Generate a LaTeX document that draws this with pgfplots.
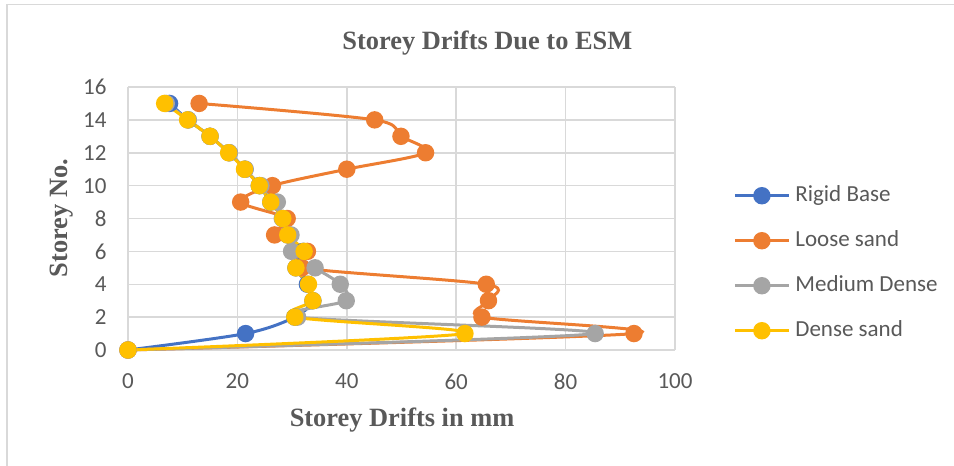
\documentclass[border=0pt]{standalone}
\usepackage{fontspec}
\setmainfont{Carlito}
\newfontfamily\tnr{Liberation Serif}
\usepackage{pgfplots}
\pgfplotsset{compat=1.18}
\definecolor{cblue}{HTML}{4472C4}
\definecolor{corange}{HTML}{ED7D31}
\definecolor{cgray}{HTML}{A5A5A5}
\definecolor{cyellow}{HTML}{FFC000}
\definecolor{gridc}{HTML}{D9D9D9}
\definecolor{textc}{HTML}{595959}
\begin{document}
\begin{tikzpicture}
\useasboundingbox (0,0) rectangle (477pt,-233pt);
\draw[color=gridc, line width=0.7pt] (3.5pt,-233pt)--(3.5pt,-2.25pt)--(477pt,-2.25pt);
\begin{axis}[
  at={(64pt,-175pt)}, anchor=south west,
  scale only axis, width=273.5pt, height=131.5pt,
  xmin=0, xmax=100, ymin=0, ymax=16,
  xtick={0,20,...,100}, ytick={0,2,...,16},
  grid=major, major grid style={color=gridc, line width=0.75pt},
  axis line style={draw=none},
  major tick length=0pt,
  clip=false,
  tick label style={font=\fontsize{11.5}{13}\selectfont, color=textc},
  /pgf/number format/assume math mode=true,
  xticklabel style={yshift=-8.2pt},
  yticklabel style={xshift=-7.2pt},
  title={Storey Drifts Due to ESM},
  title style={font=\tnr\bfseries\fontsize{13.2}{15}\selectfont, color=textc, at={(0.657,1.171)}, anchor=center, yshift=-6.5pt},
  xlabel={Storey Drifts in mm},
  xlabel style={font=\tnr\bfseries\fontsize{13.2}{15}\selectfont, color=textc, at={(0.501,-0.266)}, anchor=center},
  ylabel={Storey No.},
  ylabel style={font=\tnr\bfseries\fontsize{13.2}{15}\selectfont, color=textc, at={(-0.1207,0.502)}, anchor=center},
  legend style={at={(1.106,0.33)}, anchor=west, draw=none, fill=none, inner sep=0pt,
    font=\fontsize{11.5}{13}\selectfont, text=textc, row sep=11.5pt,
    nodes={inner sep=0pt, text height=8.5pt, text depth=2.5pt},
    /tikz/every odd column/.append style={column sep=2.5pt}},
  legend cell align=left,
  legend image code/.code={\draw[mark repeat=2, mark phase=2] plot coordinates {(0pt,0pt) (13.5pt,0pt) (27pt,0pt)};},
  every axis plot/.append style={line width=1.5pt, smooth, tension=0.5, mark=*, mark size=3.6pt, mark options={solid}},
]
\addplot[color=cblue, mark options={fill=cblue}] coordinates {
(0,0) (21.5,1) (30.5,2) (33.8,3) (32.8,4) (30.7,5) (32.0,6) (29.2,7) (28.3,8) (26.1,9) (24.0,10) (21.4,11) (18.5,12) (15.0,13) (11.0,14) (7.6,15)};
\addlegendentry{Rigid Base}
\addplot[color=corange, mark options={fill=corange}] coordinates {
(0,0) (92.5,1) (64.7,2) (65.9,3) (65.5,4) (31.8,5) (32.8,6) (26.8,7) (29.1,8) (20.6,9) (26.4,10) (40.0,11) (54.4,12) (49.9,13) (45.1,14) (13.0,15)};
\addlegendentry{Loose sand}
\addplot[color=cgray, mark options={fill=cgray}] coordinates {
(0,0) (85.4,1) (31.0,2) (39.9,3) (38.8,4) (34.2,5) (29.9,6) (29.8,7) (28.2,8) (27.3,9) (24.3,10) (21.4,11) (18.5,12) (15.0,13) (11.0,14) (7.0,15)};
\addlegendentry{Medium Dense}
\addplot[color=cyellow, mark options={fill=cyellow}] coordinates {
(0,0) (61.6,1) (30.5,2) (33.8,3) (33.0,4) (30.7,5) (32.2,6) (29.2,7) (28.3,8) (26.1,9) (24.0,10) (21.3,11) (18.4,12) (15.0,13) (10.9,14) (6.7,15)};
\addlegendentry{Dense sand}
\end{axis}
\end{tikzpicture}
\end{document}
